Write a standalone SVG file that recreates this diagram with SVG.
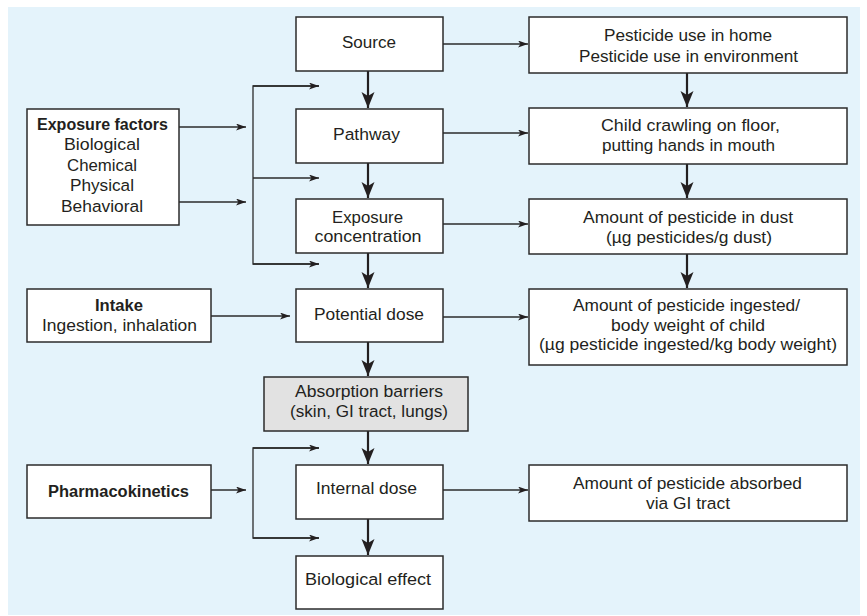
<svg xmlns="http://www.w3.org/2000/svg" width="867" height="616" viewBox="0 0 867 616">
<defs>
<style>
.bx{fill:#ffffff;stroke:#2b2b2b;stroke-width:1.5}
.gy{fill:#e2e2e2;stroke:#2b2b2b;stroke-width:1.5}
.t{font-family:"Liberation Sans",Arial,sans-serif;font-size:16.8px;fill:#231f20;text-anchor:middle}
.b{font-weight:bold}
.thin{fill:none;stroke:#2b2b2b;stroke-width:1.3;marker-end:url(#ah)}
.line{fill:none;stroke:#2b2b2b;stroke-width:1.3}
.thick{fill:none;stroke:#231f20;stroke-width:2.2;marker-end:url(#ahb)}
</style>
<marker id="ah" markerUnits="userSpaceOnUse" markerWidth="11" markerHeight="8" refX="10" refY="3.5" orient="auto">
<path d="M0,0 L10,3.5 L0,7 L2.5,3.5 z" fill="#231f20"/>
</marker>
<marker id="ahb" markerUnits="userSpaceOnUse" markerWidth="17" markerHeight="14" refX="16" refY="6.5" orient="auto">
<path d="M0,0 L16,6.5 L0,13 L4,6.5 z" fill="#231f20"/>
</marker>
</defs>
<rect x="8" y="7" width="852" height="608" fill="#e4f3fb"/>

<g id="connectors">
<line class="thick" x1="368" y1="71" x2="368" y2="108"/>
<line class="thick" x1="368" y1="163" x2="368" y2="198"/>
<line class="thick" x1="368" y1="253" x2="368" y2="288"/>
<line class="thick" x1="368" y1="342" x2="368" y2="376"/>
<line class="thick" x1="368" y1="431" x2="368" y2="464"/>
<line class="thick" x1="368" y1="519" x2="368" y2="555"/>
<line class="thick" x1="687" y1="73" x2="687" y2="107"/>
<line class="thick" x1="687" y1="164" x2="687" y2="198"/>
<line class="thick" x1="687" y1="254" x2="687" y2="288"/>
<line class="thin" x1="443" y1="44" x2="528" y2="44"/>
<line class="thin" x1="443" y1="133" x2="528" y2="133"/>
<line class="thin" x1="443" y1="224" x2="528" y2="224"/>
<line class="thin" x1="443" y1="317" x2="528" y2="317"/>
<line class="thin" x1="443" y1="490" x2="528" y2="490"/>
<line class="thin" x1="211" y1="316" x2="290" y2="316"/>
<line class="thin" x1="179" y1="127" x2="246" y2="127"/>
<line class="thin" x1="179" y1="202" x2="246" y2="202"/>
<polyline class="line" points="319,86 253,86 253,264 319,264"/>
<line class="thin" x1="253" y1="86" x2="319" y2="86"/>
<line class="thin" x1="253" y1="178" x2="319" y2="178"/>
<line class="thin" x1="253" y1="264" x2="319" y2="264"/>
<line class="thin" x1="211" y1="490" x2="246" y2="490"/>
<polyline class="line" points="319,448 253,448 253,538 319,538"/>
<line class="thin" x1="253" y1="448" x2="319" y2="448"/>
<line class="thin" x1="253" y1="538" x2="319" y2="538"/>
</g>

<g id="source"><rect class="bx" x="296" y="17" width="147" height="54"/><text class="t" x="369" y="48" textLength="54" lengthAdjust="spacingAndGlyphs">Source</text></g>
<g id="pathway"><rect class="bx" x="296" y="109" width="147" height="54"/><text class="t" x="366.5" y="140" textLength="67" lengthAdjust="spacingAndGlyphs">Pathway</text></g>
<g id="exposure-concentration"><rect class="bx" x="296" y="199" width="147" height="54"/><text class="t" x="367.5" y="222.5" textLength="71" lengthAdjust="spacingAndGlyphs">Exposure</text><text class="t" x="368" y="242" textLength="107" lengthAdjust="spacingAndGlyphs">concentration</text></g>
<g id="potential-dose"><rect class="bx" x="296" y="289" width="147" height="53"/><text class="t" x="369" y="320" textLength="110" lengthAdjust="spacingAndGlyphs">Potential dose</text></g>
<g id="absorption-barriers"><rect class="gy" x="264" y="377" width="204" height="54"/><text class="t" x="369" y="397" textLength="148" lengthAdjust="spacingAndGlyphs">Absorption barriers</text><text class="t" x="369" y="416.5" textLength="158" lengthAdjust="spacingAndGlyphs">(skin, GI tract, lungs)</text></g>
<g id="internal-dose"><rect class="bx" x="296" y="465" width="147" height="54"/><text class="t" x="366.5" y="494" textLength="101" lengthAdjust="spacingAndGlyphs">Internal dose</text></g>
<g id="biological-effect"><rect class="bx" x="296" y="556" width="147" height="53"/><text class="t" x="368" y="585" textLength="126" lengthAdjust="spacingAndGlyphs">Biological effect</text></g>

<g id="exposure-factors"><rect class="bx" x="27" y="109" width="152" height="116"/>
<text class="t b" x="102.5" y="129.5" textLength="131" lengthAdjust="spacingAndGlyphs">Exposure factors</text>
<text class="t" x="102" y="150" textLength="76" lengthAdjust="spacingAndGlyphs">Biological</text>
<text class="t" x="102" y="170.5" textLength="70" lengthAdjust="spacingAndGlyphs">Chemical</text>
<text class="t" x="102" y="191" textLength="64" lengthAdjust="spacingAndGlyphs">Physical</text>
<text class="t" x="102" y="211.5" textLength="82" lengthAdjust="spacingAndGlyphs">Behavioral</text></g>
<g id="intake"><rect class="bx" x="27" y="289" width="184" height="53"/><text class="t b" x="119" y="311" textLength="48" lengthAdjust="spacingAndGlyphs">Intake</text><text class="t" x="119.5" y="330.5" textLength="155" lengthAdjust="spacingAndGlyphs">Ingestion, inhalation</text></g>
<g id="pharmacokinetics"><rect class="bx" x="27" y="465" width="184" height="53"/><text class="t b" x="118.5" y="497" textLength="141" lengthAdjust="spacingAndGlyphs">Pharmacokinetics</text></g>

<g id="pesticide-use"><rect class="bx" x="529" y="17" width="318" height="56"/><text class="t" x="688" y="40.5" textLength="168" lengthAdjust="spacingAndGlyphs">Pesticide use in home</text><text class="t" x="688.5" y="61.5" textLength="219" lengthAdjust="spacingAndGlyphs">Pesticide use in environment</text></g>
<g id="child-crawling"><rect class="bx" x="529" y="108" width="318" height="56"/><text class="t" x="690.5" y="131" textLength="179" lengthAdjust="spacingAndGlyphs">Child crawling on floor,</text><text class="t" x="688.5" y="151" textLength="173" lengthAdjust="spacingAndGlyphs">putting hands in mouth</text></g>
<g id="pesticide-in-dust"><rect class="bx" x="529" y="199" width="318" height="55"/><text class="t" x="688" y="223" textLength="210" lengthAdjust="spacingAndGlyphs">Amount of pesticide in dust</text><text class="t" x="689" y="242.5" textLength="166" lengthAdjust="spacingAndGlyphs">(µg pesticides/g dust)</text></g>
<g id="pesticide-ingested"><rect class="bx" x="529" y="289" width="318" height="76"/><text class="t" x="686.5" y="311" textLength="227" lengthAdjust="spacingAndGlyphs">Amount of pesticide ingested/</text><text class="t" x="688" y="330.5" textLength="154" lengthAdjust="spacingAndGlyphs">body weight of child</text><text class="t" x="688" y="350" textLength="298" lengthAdjust="spacingAndGlyphs">(µg pesticide ingested/kg body weight)</text></g>
<g id="pesticide-absorbed"><rect class="bx" x="529" y="465" width="318" height="56"/><text class="t" x="687.5" y="489" textLength="229" lengthAdjust="spacingAndGlyphs">Amount of pesticide absorbed</text><text class="t" x="688" y="508.5" textLength="84" lengthAdjust="spacingAndGlyphs">via GI tract</text></g>
</svg>
